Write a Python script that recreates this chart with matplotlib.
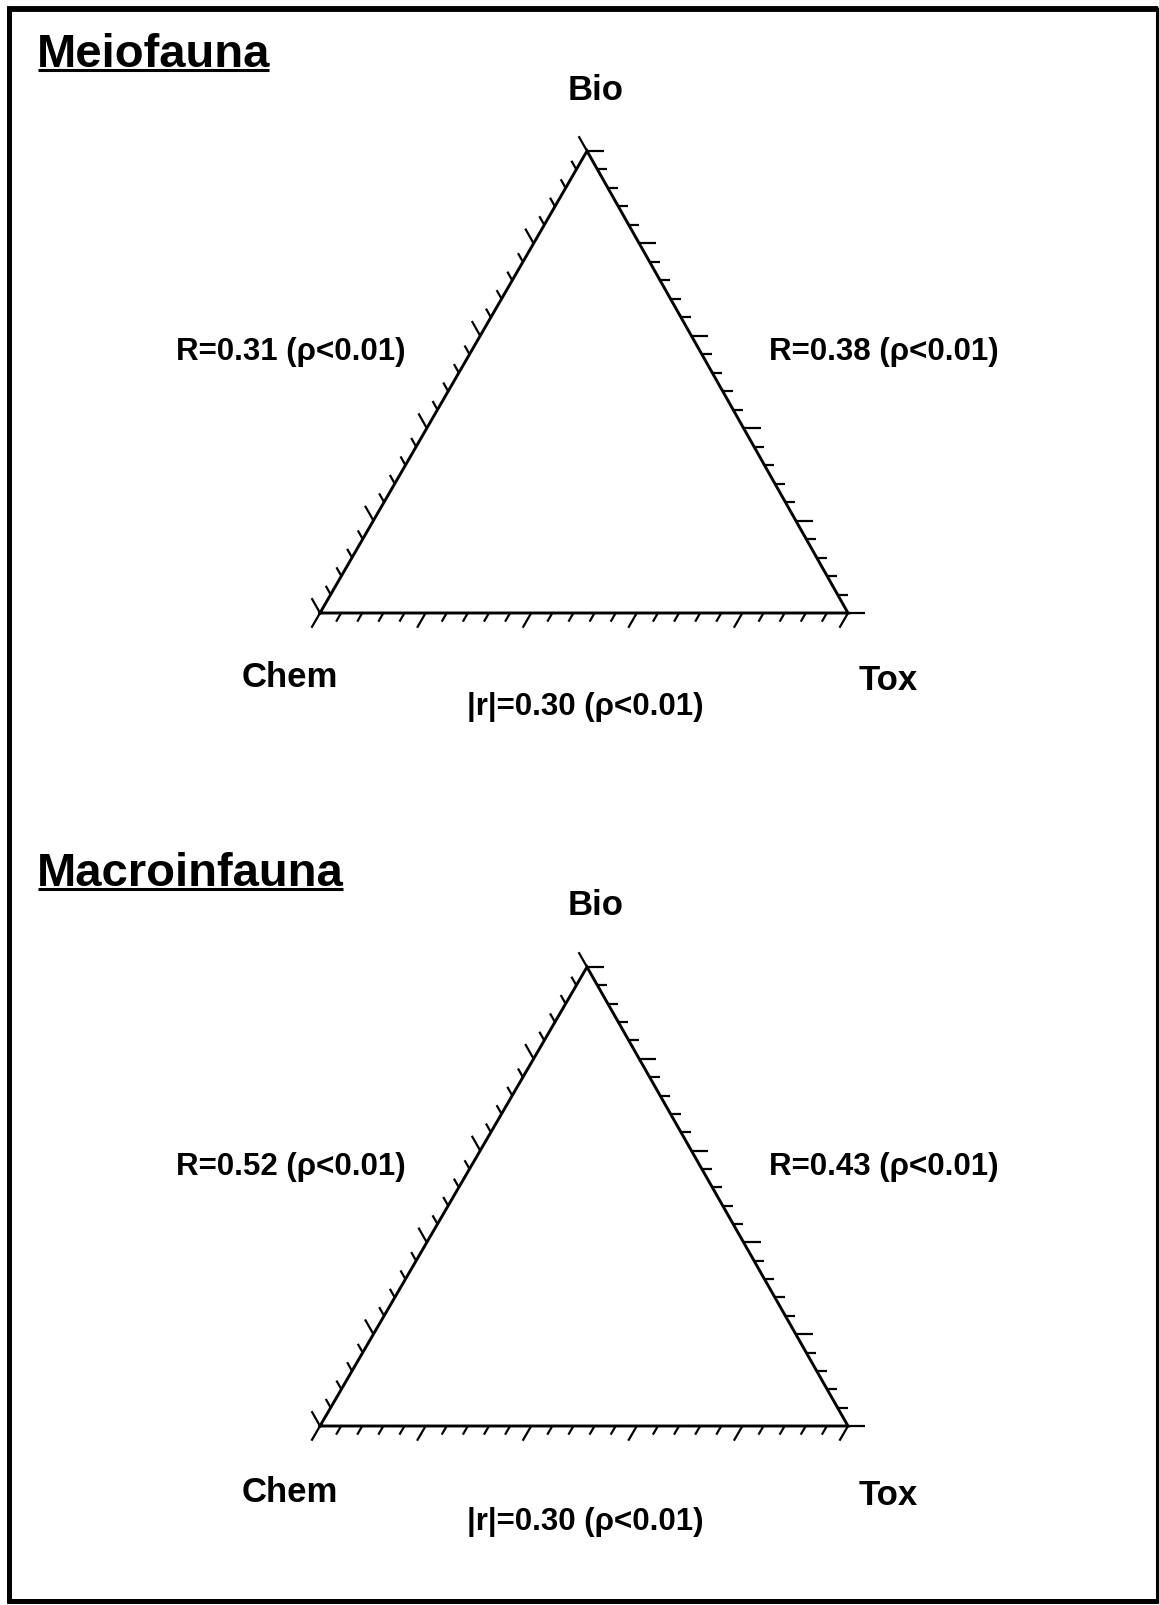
import numpy as np
import matplotlib
matplotlib.use("Agg")
import matplotlib.pyplot as plt

plt.rcParams['font.family'] = ['Liberation Sans', 'DejaVu Sans']

# data
panels = ["Meiofauna", "Macroinfauna"]
vertex_names = ["Bio", "Chem", "Tox"]
r_bio_chem = [0.31, 0.52]
r_bio_tox = [0.38, 0.43]
r_chem_tox = [0.30, 0.30]
p_label = "\u03c1<0.01"
n_div = 25
major_every = 5

# layout (pixel coords, y downwards)
W, H = 1159, 1606
x_left, x_right, x_apex = 320, 848, 587
base_y = [614, 1427]
apex_y = [152, 968]
title_y = [67, 886]
text_dy = [0, 815]

fig = plt.figure(figsize=(W / 100, H / 100), dpi=100)
ax = fig.add_axes([0, 0, 1, 1])
ax.set_xlim(0, W)
ax.set_ylim(H, 0)
ax.axis('off')

# frame
ax.plot([9, 9], [8, 1604], color='black', lw=3.6, solid_capstyle='butt')
ax.plot([7, 1158], [10, 10], color='black', lw=4.2, solid_capstyle='butt')
ax.plot([1157, 1157], [8, 1604], color='black', lw=2.2, solid_capstyle='butt')
ax.plot([7, 1158], [1602, 1602], color='black', lw=3.6, solid_capstyle='butt')


def unit(v):
    v = np.asarray(v, dtype=float)
    return v / np.hypot(v[0], v[1])


def edge_ticks(p0, p1, direction):
    p0 = np.asarray(p0, float)
    p1 = np.asarray(p1, float)
    d = unit(direction)
    for i, f in enumerate(np.linspace(0, 1, n_div + 1)):
        pt = p0 + f * (p1 - p0)
        length = 17 if i % major_every == 0 else 10
        end = pt + length * d
        ax.plot([pt[0], end[0]], [pt[1], end[1]], color='black', lw=1.6,
                solid_capstyle='butt')


titles = []
for k, name in enumerate(panels):
    bl = (x_left, base_y[k])
    br = (x_right, base_y[k])
    ap = (x_apex, apex_y[k])
    tri_x = [bl[0], br[0], ap[0], bl[0]]
    tri_y = [bl[1], br[1], ap[1], bl[1]]
    ax.plot(tri_x, tri_y, color='black', lw=2.1, solid_joinstyle='miter')

    # ticks: bottom parallel to left edge, right horizontal, left parallel to right edge
    edge_ticks(bl, br, (bl[0] - ap[0], bl[1] - ap[1]))
    edge_ticks(ap, br, (1, 0))
    edge_ticks(bl, ap, (ap[0] - br[0], ap[1] - br[1]))

    dy = text_dy[k]
    t = ax.text(37, title_y[k], name, fontsize=34, fontweight='bold',
                ha='left', va='baseline')
    titles.append(t)

    ax.text(596, 100 + dy, vertex_names[0], fontsize=25, fontweight='bold',
            ha='center', va='baseline')
    ax.text(290, 687 + dy, vertex_names[1], fontsize=25, fontweight='bold',
            ha='center', va='baseline')
    ax.text(888, 690 + dy, vertex_names[2], fontsize=25, fontweight='bold',
            ha='center', va='baseline')

    ax.text(291, 360 + dy, f"R={r_bio_chem[k]:.2f} ({p_label})", fontsize=22.5,
            fontweight='bold', ha='center', va='baseline')
    ax.text(884, 360 + dy, f"R={r_bio_tox[k]:.2f} ({p_label})", fontsize=22.5,
            fontweight='bold', ha='center', va='baseline')
    ax.text(585, 715 + dy, f"|r|={r_chem_tox[k]:.2f} ({p_label})", fontsize=22.5,
            fontweight='bold', ha='center', va='baseline')

# underline titles
fig.canvas.draw()
inv = ax.transData.inverted()
for t in titles:
    bb = t.get_window_extent()
    (x0, _), (x1, _) = inv.transform([(bb.x0, bb.y0), (bb.x1, bb.y0)])
    yb = t.get_position()[1] + 4
    ax.plot([x0 + 1, x1 - 1], [yb, yb], color='black', lw=2.2,
            solid_capstyle='butt')

fig.savefig("out.png", dpi=100)
